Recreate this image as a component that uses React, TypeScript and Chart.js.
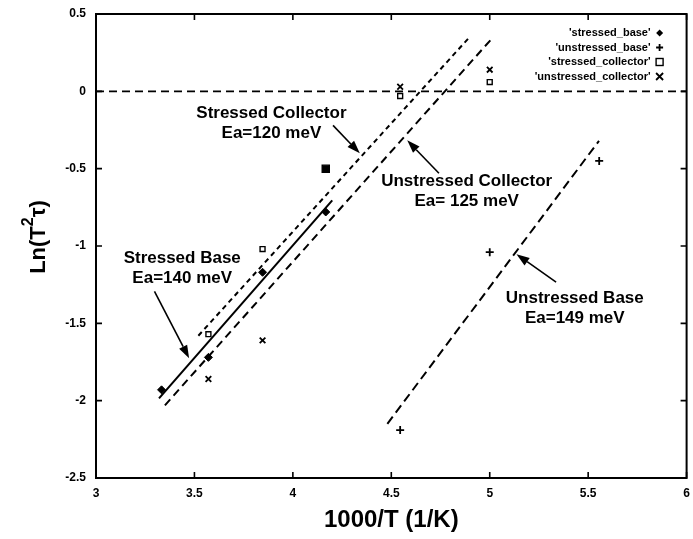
import React, { useEffect, useRef } from "react";
import { Chart, registerables } from "chart.js";

Chart.register(...registerables);

const FONT = "'Liberation Sans', Arial, Helvetica, sans-serif";

// ---- axis ranges / ticks ----
const xTickValues = [3, 3.5, 4, 4.5, 5, 5.5, 6];
const yTickValues = [-2.5, -2, -1.5, -1, -0.5, 0, 0.5];

// ---- measured points (x = 1000/T, y = Ln(T^2 tau)) ----
const stressedBaseX = [3.333, 3.571, 3.846, 4.167];
const stressedBaseY = [-1.93, -1.72, -1.17, -0.78];

const unstressedBaseX = [4.545, 5.0, 5.556];
const unstressedBaseY = [-2.19, -1.04, -0.45];

const stressedCollectorX = [3.571, 3.846, 4.167, 4.545, 5.0];
const stressedCollectorY = [-1.57, -1.02, -0.5, -0.03, 0.06];

const unstressedCollectorX = [3.571, 3.846, 4.545, 5.0];
const unstressedCollectorY = [-1.86, -1.61, 0.03, 0.14];

// ---- fitted lines (end points) ----
const stressedBaseFitX = [3.32, 4.2];
const stressedBaseFitY = [-1.985, -0.705];

const stressedCollectorFitX = [3.52, 4.89];
const stressedCollectorFitY = [-1.58, 0.34];

const unstressedCollectorFitX = [3.35, 5.01];
const unstressedCollectorFitY = [-2.03, 0.34];

const unstressedBaseFitX = [4.48, 5.555];
const unstressedBaseFitY = [-2.15, -0.32];

// ---- legend ----
const legendLabels = [
  "'stressed_base'",
  "'unstressed_base'",
  "'stressed_collector'",
  "'unstressed_collector'",
];

// ---- annotations (data coordinates) ----
const noteLines = [
  ["Stressed Collector", "Ea=120 meV"],
  ["Unstressed Collector", "Ea= 125 meV"],
  ["Stressed Base", "Ea=140 meV"],
  ["Unstressed Base", "Ea=149 meV"],
];
const noteX = [3.891, 4.883, 3.438, 5.432];
const noteY = [-0.142, -0.582, -1.08, -1.338];
const arrowFromX = [4.204, 4.742, 3.297, 5.337];
const arrowFromY = [-0.22, -0.53, -1.293, -1.234];
const arrowToX = [4.34, 4.581, 3.473, 5.136];
const arrowToY = [-0.401, -0.317, -1.726, -1.053];

const xTitle = "1000/T (1/K)";

function pts(xs: number[], ys: number[]) {
  return xs.map((x, i) => ({ x, y: ys[i] }));
}

function drawMarker(
  ctx: CanvasRenderingContext2D,
  kind: string,
  x: number,
  y: number,
  r: number
) {
  ctx.save();
  ctx.strokeStyle = "#000";
  ctx.fillStyle = "#000";
  ctx.lineWidth = 1.8;
  ctx.beginPath();
  if (kind === "diamond") {
    ctx.moveTo(x, y - r);
    ctx.lineTo(x + r, y);
    ctx.lineTo(x, y + r);
    ctx.lineTo(x - r, y);
    ctx.closePath();
    ctx.fill();
  } else if (kind === "plus") {
    ctx.moveTo(x - r, y);
    ctx.lineTo(x + r, y);
    ctx.moveTo(x, y - r);
    ctx.lineTo(x, y + r);
    ctx.stroke();
  } else if (kind === "box") {
    ctx.lineWidth = 1.4;
    ctx.strokeRect(x - r, y - r, 2 * r, 2 * r);
  } else {
    ctx.moveTo(x - r, y - r);
    ctx.lineTo(x + r, y + r);
    ctx.moveTo(x + r, y - r);
    ctx.lineTo(x - r, y + r);
    ctx.stroke();
  }
  ctx.restore();
}

export default function App() {
  const ref = useRef<HTMLCanvasElement>(null);

  useEffect(() => {
    const canvas = ref.current;
    if (!canvas) return;

    const overlay = {
      id: "overlay",
      beforeDatasetsDraw(chart: any) {
        const { ctx, chartArea, scales } = chart;
        const y0 = scales.y.getPixelForValue(0);
        ctx.save();
        ctx.strokeStyle = "#000";
        ctx.lineWidth = 1.8;
        ctx.setLineDash([8, 5]);
        ctx.beginPath();
        ctx.moveTo(chartArea.left, y0);
        ctx.lineTo(chartArea.right, y0);
        ctx.stroke();
        ctx.restore();
      },
      afterDraw(chart: any) {
        const { ctx, chartArea, scales } = chart;
        const { left, right, top, bottom } = chartArea;
        const xs = scales.x;
        const ys = scales.y;
        ctx.save();
        // frame
        ctx.strokeStyle = "#000";
        ctx.lineWidth = 2;
        ctx.setLineDash([]);
        ctx.strokeRect(left, top, right - left, bottom - top);
        // inward ticks
        ctx.lineWidth = 1.6;
        ctx.beginPath();
        xTickValues.forEach((v) => {
          const px = xs.getPixelForValue(v);
          ctx.moveTo(px, bottom);
          ctx.lineTo(px, bottom - 6);
          ctx.moveTo(px, top);
          ctx.lineTo(px, top + 6);
        });
        yTickValues.forEach((v) => {
          const py = ys.getPixelForValue(v);
          ctx.moveTo(left, py);
          ctx.lineTo(left + 6, py);
          ctx.moveTo(right, py);
          ctx.lineTo(right - 6, py);
        });
        ctx.stroke();

        // legend (top right, inside)
        const kinds = ["diamond", "plus", "box", "cross"];
        ctx.font = `bold 11px ${FONT}`;
        ctx.fillStyle = "#000";
        ctx.textAlign = "right";
        ctx.textBaseline = "middle";
        legendLabels.forEach((lab, i) => {
          const ly = top + 19 + i * 14.5;
          ctx.fillText(lab, right - 36, ly);
          drawMarker(ctx, kinds[i], right - 27, ly, 3.5);
        });

        // annotations with arrows
        ctx.font = `bold 17px ${FONT}`;
        ctx.textAlign = "center";
        ctx.textBaseline = "middle";
        noteLines.forEach((lines, i) => {
          const tx = xs.getPixelForValue(noteX[i]);
          const ty = ys.getPixelForValue(noteY[i]);
          lines.forEach((t, j) => ctx.fillText(t, tx, ty + j * 20));
          const ax = xs.getPixelForValue(arrowFromX[i]);
          const ay = ys.getPixelForValue(arrowFromY[i]);
          const bx = xs.getPixelForValue(arrowToX[i]);
          const by = ys.getPixelForValue(arrowToY[i]);
          const ang = Math.atan2(by - ay, bx - ax);
          const hl = 13;
          const hw = 4.5;
          const cx = bx - hl * Math.cos(ang);
          const cy = by - hl * Math.sin(ang);
          ctx.lineWidth = 1.6;
          ctx.beginPath();
          ctx.moveTo(ax, ay);
          ctx.lineTo(cx, cy);
          ctx.stroke();
          ctx.beginPath();
          ctx.moveTo(bx, by);
          ctx.lineTo(cx + hw * Math.sin(ang), cy - hw * Math.cos(ang));
          ctx.lineTo(cx - hw * Math.sin(ang), cy + hw * Math.cos(ang));
          ctx.closePath();
          ctx.fill();
        });

        // y axis title with superscript
        ctx.translate(37, 237);
        ctx.rotate(-Math.PI / 2);
        ctx.textAlign = "left";
        ctx.textBaseline = "alphabetic";
        const bigFont = `bold 22px ${FONT}`;
        const supFont = `bold 16px ${FONT}`;
        ctx.font = bigFont;
        const p1 = "Ln(T";
        const p3 = "\u03c4)";
        const w1 = ctx.measureText(p1).width;
        const w3 = ctx.measureText(p3).width;
        ctx.font = supFont;
        const w2 = ctx.measureText("2").width;
        const total = w1 + w2 + w3;
        let cx0 = -total / 2;
        ctx.font = bigFont;
        ctx.fillText(p1, cx0, 8);
        cx0 += w1;
        ctx.font = supFont;
        ctx.fillText("2", cx0, -4);
        cx0 += w2;
        ctx.font = bigFont;
        ctx.fillText(p3, cx0, 8);
        ctx.restore();
      },
    };

    const filledBoxIndex = 2;

    const chart = new Chart(canvas, {
      type: "scatter",
      data: {
        datasets: [
          {
            label: "stressed_base",
            data: pts(stressedBaseX, stressedBaseY),
            pointStyle: "rectRot",
            pointRadius: 4,
            backgroundColor: "#000",
            borderColor: "#000",
            showLine: false,
          },
          {
            label: "unstressed_base",
            data: pts(unstressedBaseX, unstressedBaseY),
            pointStyle: "cross",
            pointRadius: 4,
            borderWidth: 1.8,
            backgroundColor: "#000",
            borderColor: "#000",
            showLine: false,
          },
          {
            label: "stressed_collector",
            data: pts(stressedCollectorX, stressedCollectorY),
            pointStyle: "rect",
            pointRadius: (c: any) => (c.dataIndex === filledBoxIndex ? 5 : 3.5),
            borderWidth: 1.4,
            backgroundColor: (c: any) =>
              c.dataIndex === filledBoxIndex ? "#000" : "#fff",
            borderColor: "#000",
            showLine: false,
          },
          {
            label: "unstressed_collector",
            data: pts(unstressedCollectorX, unstressedCollectorY),
            pointStyle: "crossRot",
            pointRadius: 4,
            borderWidth: 1.8,
            backgroundColor: "#000",
            borderColor: "#000",
            showLine: false,
          },
          {
            label: "stressed_base_fit",
            data: pts(stressedBaseFitX, stressedBaseFitY),
            showLine: true,
            pointRadius: 0,
            borderColor: "#000",
            borderWidth: 2,
          },
          {
            label: "stressed_collector_fit",
            data: pts(stressedCollectorFitX, stressedCollectorFitY),
            showLine: true,
            pointRadius: 0,
            borderColor: "#000",
            borderWidth: 2,
            borderDash: [5, 4],
          },
          {
            label: "unstressed_collector_fit",
            data: pts(unstressedCollectorFitX, unstressedCollectorFitY),
            showLine: true,
            pointRadius: 0,
            borderColor: "#000",
            borderWidth: 2,
            borderDash: [8, 5],
          },
          {
            label: "unstressed_base_fit",
            data: pts(unstressedBaseFitX, unstressedBaseFitY),
            showLine: true,
            pointRadius: 0,
            borderColor: "#000",
            borderWidth: 2,
            borderDash: [9, 5],
          },
        ],
      },
      options: {
        responsive: false,
        devicePixelRatio: 1,
        animation: false,
        layout: { padding: { top: 14, right: 2, bottom: 0, left: 0 } },
        plugins: {
          legend: { display: false },
          tooltip: { enabled: false },
        },
        scales: {
          x: {
            type: "linear",
            position: "bottom",
            min: 3,
            max: 6,
            grid: { display: false, drawTicks: false },
            border: { display: false },
            ticks: {
              stepSize: 0.5,
              autoSkip: false,
              maxRotation: 0,
              padding: 8,
              color: "#000",
              font: { family: FONT, size: 12, weight: "bold" },
              callback: (v: any) => String(v),
            },
            title: {
              display: true,
              text: xTitle,
              color: "#000",
              font: { family: FONT, size: 24, weight: "bold" },
              padding: { top: 0, bottom: 4 },
            },
            afterFit: (s: any) => {
              s.height = 61;
              s.paddingLeft = 0;
              s.paddingRight = 0;
            },
          },
          y: {
            type: "linear",
            position: "left",
            min: -2.5,
            max: 0.5,
            grid: { display: false, drawTicks: false },
            border: { display: false },
            ticks: {
              stepSize: 0.5,
              autoSkip: false,
              padding: 10,
              color: "#000",
              font: { family: FONT, size: 12, weight: "bold" },
              callback: (v: any) => String(v),
            },
            afterFit: (s: any) => {
              s.width = 96;
              s.paddingTop = 0;
              s.paddingBottom = 0;
            },
          },
        },
      } as any,
      plugins: [overlay],
    });

    return () => chart.destroy();
  }, []);

  return (
    <div
      style={{
        position: "fixed",
        left: 0,
        top: 0,
        width: 693,
        height: 539,
        background: "#fff",
      }}
    >
      <canvas
        ref={ref}
        width={693}
        height={539}
        style={{ display: "block", width: 693, height: 539 }}
      />
    </div>
  );
}
